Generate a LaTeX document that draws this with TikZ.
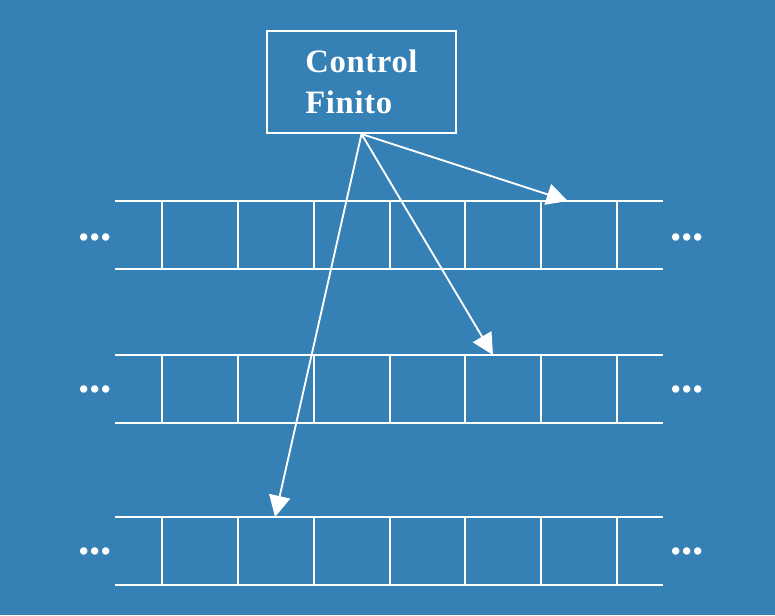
\documentclass[tikz,border=0pt]{standalone}
\usepackage{fontspec}
\setmainfont{Liberation Serif}
\usetikzlibrary{arrows.meta, positioning}
\definecolor{tmblue}{RGB}{53,128,181}

\begin{document}
\begin{tikzpicture}[x=0.75pt, y=-0.75pt, line width=1.5pt, white,
	ctrlbox/.style={draw=white, line width=1.5pt, minimum width=141.75pt, minimum height=76.5pt, align=left, text=white, font=\bfseries\fontsize{24.5}{30.75}\selectfont\addfontfeatures{LetterSpace=2}},
	tapedots/.style={text=white, inner sep=0pt, font=\bfseries\fontsize{34}{34}\selectfont},
	head/.style={-{Triangle[length=16pt, width=16pt]}, line width=1.4pt}]
	\fill[tmblue] (0,0) rectangle (775,615);
	\useasboundingbox (0,0) rectangle (775,615);
	% the three tapes
	\foreach \t/\y/\d in {1/201/36, 2/355/34, 3/517/34} {
		\draw (115,\y) -- (663,\y);
		\draw (115,\y+68) -- (663,\y+68);
		\foreach \x in {162,238,314,390,465,541,617}
			\draw (\x,\y) -- (\x,\y+68);
		\node[tapedots] at (95,\y+\d) (l\t) {...};
		\node[tapedots] at (687,\y+\d) (r\t) {...};
	}
	\node[ctrlbox] at (361.5,82) (ctrl) {Control\\Finito};
	\coordinate (h1) at (568,201);
	\coordinate (h2) at (493,355);
	\coordinate (h3) at (275,517);
	\draw[head] (ctrl.south) -- (h1);
	\draw[head] (ctrl.south) -- (h2);
	\draw[head] (ctrl.south) -- (h3);
\end{tikzpicture}
\end{document}
